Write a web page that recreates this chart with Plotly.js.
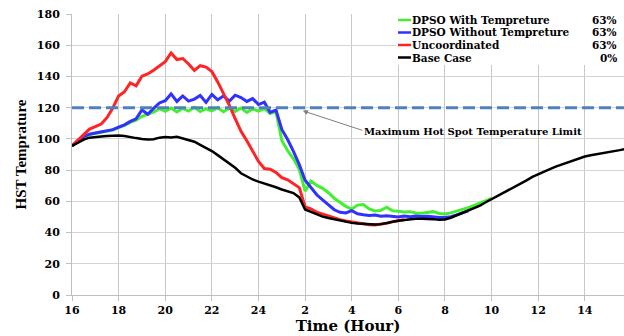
<!DOCTYPE html>
<html><head><meta charset="utf-8">
<script src="https://cdn.plot.ly/plotly-3.0.1.min.js"></script>
<style>html,body{margin:0;padding:0;background:#fff}#chart{width:624px;height:336px}</style>
</head><body><div id="chart"></div>
<script>
// time axis: hours since 16:00 of day 1 (16 .. 39.75), sampled every 15 minutes
const hours = Array.from({length: 96}, (_, i) => 16 + i * 0.25);

const tickVals = [16, 18, 20, 22, 24, 26, 28, 30, 32, 34, 36, 38];
const tickText = ['16', '18', '20', '22', '24', '2', '4', '6', '8', '10', '12', '14'];

const seriesNames = ['DPSO With Tempreture', 'DPSO Without Tempreture', 'Uncoordinated', 'Base Case'];
const seriesShares = ['63%', '63%', '63%', '0%'];

const dpsoWith = [
  95.5, 98.6, 101.2, 102.8, 103.6, 104.4, 104.9, 105.7,
  107.2, 108.6, 110.6, 112.0, 114.5, 116.0, 117.2, 119.4,
  117.6, 119.8, 117.2, 119.5, 117.8, 120.2, 117.5, 119.3,
  118.0, 120.0, 117.4, 119.6, 117.6, 119.8, 117.0, 119.2,
  117.8, 119.4, 116.2, 117.5, 99.0, 92.5, 87.2, 80.5,
  66.5, 73.0, 70.2, 68.3, 65.5, 62.0, 59.4, 56.8,
  55.0, 57.6, 58.0, 55.2, 53.8, 54.2, 56.2, 53.9,
  53.6, 53.2, 53.4, 52.6, 52.4, 53.0, 53.4, 52.2,
  51.9, 52.6, 53.6, 54.8, 56.0, 57.4, 58.8, 60.4, 61.8
];
const dpsoWithout = [
  95.5, 98.8, 101.4, 103.0, 103.8, 104.6, 105.0, 105.9,
  107.6, 109.0, 111.2, 112.8, 118.5, 115.8, 119.5, 123.0,
  124.5, 128.8, 124.0, 127.5, 124.2, 125.5, 127.8, 123.4,
  128.5, 125.0, 127.6, 124.2, 128.0, 126.5, 124.0, 125.8,
  122.0, 123.5, 117.0, 118.5, 106.0, 99.6, 92.0, 83.5,
  73.5, 68.8, 64.2, 61.0, 57.8, 54.6, 53.0, 52.6,
  54.0, 52.0, 51.4, 50.9, 51.2, 50.4, 50.8, 50.3,
  50.0, 50.6, 50.2, 50.6, 50.3, 50.5, 50.0, 49.6,
  49.6, 50.2, 51.3, 52.5, 53.9
];
const uncoordinated = [
  95.5, 99.0, 102.5, 106.3, 107.8, 109.5, 113.6, 119.8,
  127.5, 130.2, 135.8, 134.0, 140.2, 141.6, 144.0, 146.8,
  149.5, 155.0, 150.8, 151.5, 148.0, 143.8, 146.9, 146.0,
  143.2, 136.5, 129.5, 121.5, 113.0, 104.8, 98.8, 92.5,
  85.6, 81.0, 80.6, 78.5, 75.2, 73.8, 71.4, 68.8,
  56.5, 55.2, 53.0, 51.8, 50.3, 49.0, 48.3, 47.4,
  46.8, 46.2, 45.5, 45.0, 44.8, 45.2, 45.9, 47.0,
  47.8, 48.2
];
const baseCase = [
  95.5, 97.5, 99.5, 100.8, 101.3, 101.5, 101.8, 102.0,
  102.2, 101.8, 101.0, 100.5, 100.0, 99.6, 99.8, 100.8,
  101.2, 100.9, 101.3, 100.4, 99.5, 98.2, 96.2, 94.3,
  92.2, 89.6, 87.0, 84.0, 81.5, 78.0, 76.0, 74.0,
  72.6, 71.5, 70.5, 69.0, 67.6, 66.4, 65.3, 62.5,
  54.8, 53.2, 51.5, 50.2, 49.3, 48.5, 47.6, 46.8,
  46.2, 45.8, 45.5, 45.2, 45.2, 45.4, 46.2, 47.2,
  47.6, 48.0, 48.6, 48.9, 48.8, 48.9, 48.6, 48.2,
  48.4, 49.5, 51.0, 52.4, 53.8, 55.5, 57.3, 59.4,
  61.4, 63.4, 65.2, 67.2, 69.0, 71.2, 73.4, 75.6,
  77.4, 79.0, 80.6, 82.2, 83.6, 85.0, 86.4, 87.8,
  88.7, 89.5, 90.1, 90.6, 91.2, 92.0, 92.8, 93.6
];
const limitValue = 120;
const limitLabel = 'Maximum Hot Spot Temperature Limit';

const seriesValues = [dpsoWith, dpsoWithout, uncoordinated, baseCase];
const seriesColors = ['#44ee33', '#3030ff', '#ff2424', '#000000'];
const seriesWidths = [3, 3, 3, 2.5];

const traces = seriesValues.map((vals, i) => ({
  type: 'scatter', mode: 'lines',
  x: hours.slice(0, vals.length), y: vals,
  name: seriesNames[i],
  line: {color: seriesColors[i], width: seriesWidths[i]},
  showlegend: false, hoverinfo: 'skip'
}));
traces.push({
  type: 'scatter', mode: 'lines',
  x: [hours[0], hours[hours.length - 1]], y: [limitValue, limitValue],
  name: limitLabel,
  line: {color: '#4f81bd', width: 3, dash: '12px,5px'},
  showlegend: false, hoverinfo: 'skip'
});

const serif = 'DejaVu Serif';
const L = 72, R = 624, T = 14, B = 295;
const px = v => (v - L) / (R - L);
const py = v => (B - v) / (B - T);

const legendRows = [20, 32.5, 45, 57.5];
const shapes = [{
  type: 'rect', xref: 'paper', yref: 'paper', layer: 'above',
  x0: px(396), x1: 1, y0: py(65), y1: 1.0,
  fillcolor: '#ffffff', line: {width: 0}
}];
const annotations = [];
seriesNames.forEach((n, i) => {
  shapes.push({
    type: 'line', xref: 'paper', yref: 'paper', layer: 'above',
    x0: px(398), x1: px(411), y0: py(legendRows[i]), y1: py(legendRows[i]),
    line: {color: seriesColors[i], width: 2.5}
  });
  annotations.push({
    xref: 'paper', yref: 'paper', x: px(411), y: py(legendRows[i]),
    xanchor: 'left', yanchor: 'middle', showarrow: false, text: n, borderpad: 0,
    font: {family: serif, size: 10.5, weight: 'bold', color: '#000'}
  });
  annotations.push({
    xref: 'paper', yref: 'paper', x: px(618), y: py(legendRows[i]),
    xanchor: 'right', yanchor: 'middle', showarrow: false, text: seriesShares[i], borderpad: 0,
    font: {family: serif, size: 10.5, weight: 'bold', color: '#000'}
  });
});
annotations.push({
  x: 25.9, y: 118, xref: 'x', yref: 'y', text: '', showarrow: true,
  ax: 61, ay: 20, axref: 'pixel', ayref: 'pixel',
  arrowhead: 2, arrowsize: 1, arrowwidth: 1, arrowcolor: '#7f7f7f'
});
annotations.push({
  x: 33.2, y: 104.5, xref: 'x', yref: 'y', text: limitLabel, showarrow: false,
  xanchor: 'center', yanchor: 'middle',
  font: {family: serif, size: 10, weight: 'bold', color: '#000'}
});

const tickFont = {family: serif, size: 11, weight: 'bold', color: '#000'};
const layout = {
  width: 624, height: 336,
  margin: {l: L, r: 0, t: T, b: 336 - B, pad: 0},
  paper_bgcolor: '#ffffff', plot_bgcolor: '#ffffff',
  showlegend: false,
  xaxis: {
    range: [16, 39.68], tickmode: 'array', tickvals: tickVals, ticktext: tickText,
    showgrid: true, gridcolor: '#c8c8c8', gridwidth: 1,
    showline: true, linecolor: '#bfbfbf', linewidth: 1,
    ticks: 'outside', ticklen: 5, tickcolor: '#bfbfbf',
    tickfont: tickFont, zeroline: false, automargin: false,
    title: {text: 'Time (Hour)', font: {family: serif, size: 15, weight: 'bold', color: '#000'}, standoff: 4}
  },
  yaxis: {
    range: [0, 180], tickmode: 'linear', tick0: 0, dtick: 20,
    showgrid: true, gridcolor: '#d4d4d4', gridwidth: 1,
    showline: true, linecolor: '#bfbfbf', linewidth: 1,
    ticks: 'outside', ticklen: 5, tickcolor: '#bfbfbf',
    tickfont: tickFont, ticklabelstandoff: 4, zeroline: false, automargin: false,
    title: {text: 'HST Temprature', font: {family: 'Liberation Serif', size: 15, weight: 'bold', color: '#000'}, standoff: 6}
  },
  shapes: shapes,
  annotations: annotations
};

Plotly.newPlot('chart', traces, layout, {displayModeBar: false, staticPlot: true});
</script>
</body></html>
